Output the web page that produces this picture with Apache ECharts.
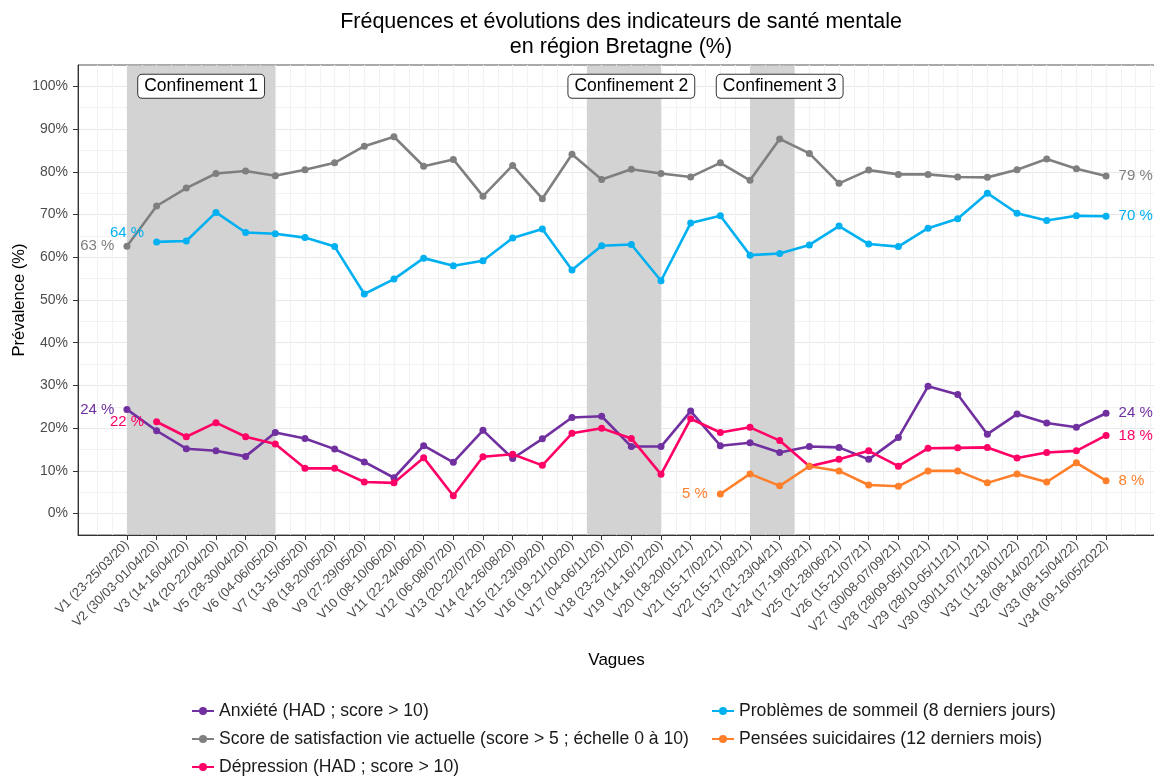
<!DOCTYPE html>
<html>
<head>
<meta charset="utf-8">
<script src="https://cdn.jsdelivr.net/npm/echarts@6/dist/echarts.min.js"></script>
<style>
  html, body { margin: 0; padding: 0; background: #fff; }
  #chart { width: 1154px; height: 777px; }
</style>
</head>
<body>
<div id="chart"></div>
<script>
const vagues = [
  'V1 (23-25/03/20)', 'V2 (30/03-01/04/20)', 'V3 (14-16/04/20)', 'V4 (20-22/04/20)',
  'V5 (28-30/04/20)', 'V6 (04-06/05/20)', 'V7 (13-15/05/20)', 'V8 (18-20/05/20)',
  'V9 (27-29/05/20)', 'V10 (08-10/06/20)', 'V11 (22-24/06/20)', 'V12 (06-08/07/20)',
  'V13 (20-22/07/20)', 'V14 (24-26/08/20)', 'V15 (21-23/09/20)', 'V16 (19-21/10/20)',
  'V17 (04-06/11/20)', 'V18 (23-25/11/20)', 'V19 (14-16/12/20)', 'V20 (18-20/01/21)',
  'V21 (15-17/02/21)', 'V22 (15-17/03/21)', 'V23 (21-23/04/21)', 'V24 (17-19/05/21)',
  'V25 (21-28/06/21)', 'V26 (15-21/07/21)', 'V27 (30/08-07/09/21)', 'V28 (28/09-05/10/21)',
  'V29 (28/10-05/11/21)', 'V30 (30/11-07/12/21)', 'V31 (11-18/01/22)', 'V32 (08-14/02/22)',
  'V33 (08-15/04/22)', 'V34 (09-16/05/2022)'
]

const anxiete = [24.4, 19.4, 15.2, 14.7, 13.4, 19.0, 17.6, 15.1, 12.1, 8.4, 15.9, 12.0, 19.5, 12.9, 17.5, 22.5, 22.8,
  15.7, 15.7, 24.0, 15.9, 16.6, 14.3, 15.7, 15.5, 12.7, 17.8, 29.8, 27.9, 18.6, 23.3, 21.2, 20.2, 23.5]
const satisfaction = [62.6, 72.0, 76.2, 79.6, 80.2, 79.1, 80.5, 82.1, 86.0, 88.2, 81.3, 82.9, 74.3, 81.5, 73.7, 84.1, 78.2,
  80.6, 79.6, 78.8, 82.1, 78.0, 87.7, 84.3, 77.3, 80.4, 79.4, 79.4, 78.8, 78.7, 80.5, 83.0, 80.7, 79.0]
const depression = [null, 21.5, 18.0, 21.3, 18.0, 16.3, 10.6, 10.6, 7.4, 7.2, 13.1, 4.2, 13.3, 13.9, 11.3, 18.8, 20.0,
  17.6, 9.2, 22.2, 19.0, 20.2, 17.1, 11.1, 12.7, 14.7, 11.1, 15.3, 15.4, 15.5, 13.0, 14.3, 14.7, 18.3]
const sommeil = [null, 63.6, 63.8, 70.5, 65.8, 65.5, 64.6, 62.5, 51.4, 54.9, 59.8, 58.0, 59.2, 64.5, 66.6, 57.0, 62.7,
  63.0, 54.5, 68.0, 69.7, 60.5, 60.9, 62.9, 67.3, 63.1, 62.5, 66.8, 69.0, 75.0, 70.3, 68.6, 69.7, 69.6]
const suicidaires = [null, null, null, null, null, null, null, null, null, null, null, null, null, null, null, null, null,
  null, null, null, 4.6, 9.3, 6.5, 11.1, 10.0, 6.7, 6.4, 10.0, 10.0, 7.2, 9.3, 7.4, 11.9, 7.7]

const confNames = ['Confinement 1', 'Confinement 2', 'Confinement 3']
const confStart = [0, 15.5, 21]
const confEnd = [5, 18, 22.5]
const confLabelX = [2.5, 17, 22]

const yTicks = [0, 10, 20, 30, 40, 50, 60, 70, 80, 90, 100]
const yMinor = [5, 15, 25, 35, 45, 55, 65, 75, 85, 95]

const FONT = '"Liberation Sans", Arial, sans-serif'
const xTicks = vagues.map((_, i) => i)
const xMinor = []
for (let i = -1; i <= 34.5; i += 0.5) xMinor.push(i)

function makeSeries(name, values, color, startOffset) {
  const pts = []
  values.forEach((v, i) => { if (v != null) pts.push([i, v]) })
  const data = pts.map((p, k) => {
    const item = { value: p }
    if (k === 0) {
      item.label = {
        show: true, position: 'left', distance: 9,
        offset: startOffset || [0, 0],
        formatter: (d) => Math.round(d.value[1]) + ' %'
      }
    } else if (k === pts.length - 1) {
      item.label = {
        show: true, position: 'right', distance: 9,
        formatter: (d) => Math.round(d.value[1]) + ' %'
      }
    }
    return item
  })
  return {
    name, type: 'line', data, z: 3,
    symbol: 'circle', symbolSize: 7,
    lineStyle: { width: 2.6, color },
    itemStyle: { color },
    label: { color, fontSize: 15, fontFamily: FONT },
    emphasis: { disabled: true }
  }
}

const legendBase = {
  orient: 'vertical', top: 697, height: 80, itemGap: 10, itemWidth: 22, itemHeight: 10,
  textStyle: { fontSize: 17.6, color: '#1a1a1a', fontFamily: FONT, lineHeight: 18 }
}

const chart = echarts.init(document.getElementById('chart'))

chart.setOption({
  animation: false,
  backgroundColor: '#fff',
  textStyle: { fontFamily: FONT },
  title: {
    text: 'Fréquences et évolutions des indicateurs de santé mentale\nen région Bretagne (%)',
    left: 616, top: 5, textAlign: 'center',
    textStyle: { fontSize: 21.5, fontWeight: 'normal', color: '#000', lineHeight: 25, fontFamily: FONT }
  },
  legend: [
    Object.assign({}, legendBase, {
      left: 186,
      data: ['Anxiété (HAD ; score > 10)', 'Score de satisfaction vie actuelle (score > 5 ; échelle 0 à 10)', 'Dépression (HAD ; score > 10)']
    }),
    Object.assign({}, legendBase, {
      left: 706,
      data: ['Problèmes de sommeil (8 derniers jours)', 'Pensées suicidaires (12 derniers mois)']
    })
  ],
  grid: {
    left: 78, top: 65, width: 1077, height: 470, outerBoundsMode: 'none',
    show: true, borderColor: '#555', borderWidth: 1
  },
  xAxis: [
    {
      type: 'value', min: -1.65, max: 34.65,
      name: 'Vagues', nameLocation: 'middle', nameGap: 117,
      nameTextStyle: { fontSize: 17, color: '#000', fontFamily: FONT },
      axisLine: { show: true, onZero: false, lineStyle: { color: '#333', width: 1 } },
      axisTick: { show: true, customValues: xTicks, length: 5, lineStyle: { color: '#333' } },
      axisLabel: {
        customValues: xTicks, rotate: 45, margin: 8, fontSize: 13, color: '#4d4d4d', fontFamily: FONT,
        formatter: (v) => vagues[Math.round(v)]
      },
      splitLine: { show: true, lineStyle: { color: '#e8e8e8', width: 1.2 } }
    },
    {
      type: 'value', min: -1.65, max: 34.65, position: 'bottom',
      axisLine: { show: false, onZero: false }, axisLabel: { show: false },
      axisTick: { show: false, customValues: xMinor },
      splitLine: { show: true, lineStyle: { color: '#f2f2f2', width: 1 } }
    }
  ],
  yAxis: [
    {
      type: 'value', min: -5, max: 105,
      name: 'Prévalence (%)', nameLocation: 'middle', nameGap: 50, nameMoveOverlap: false,
      nameTextStyle: { fontSize: 16.5, color: '#000', fontFamily: FONT },
      axisLine: { show: true, onZero: false, lineStyle: { color: '#333', width: 1 } },
      axisTick: { show: true, customValues: yTicks, length: 5, lineStyle: { color: '#333' } },
      axisLabel: { customValues: yTicks, margin: 10, fontSize: 14, color: '#4d4d4d', fontFamily: FONT, formatter: (v) => v + '%' },
      splitLine: { show: true, lineStyle: { color: '#e8e8e8', width: 1.2 } }
    },
    {
      type: 'value', min: -5, max: 105, position: 'left',
      axisLine: { show: false, onZero: false }, axisLabel: { show: false },
      axisTick: { show: false, customValues: yMinor },
      splitLine: { show: true, lineStyle: { color: '#f2f2f2', width: 1 } }
    }
  ],
  series: [
    {
      name: 'confinements', type: 'line', data: [], z: 1, silent: true,
      markArea: {
        silent: true,
        itemStyle: { color: '#d3d3d3', opacity: 1 },
        data: confStart.map((s, i) => [{ xAxis: s, yAxis: -4.85 }, { xAxis: confEnd[i], yAxis: 104.85 }])
      },
      markPoint: {
        silent: true, symbol: 'rect', symbolSize: 0,
        label: {
          show: true, position: 'inside', fontSize: 17.5, color: '#000', fontFamily: FONT,
          backgroundColor: '#fff', borderColor: '#333', borderWidth: 1, borderRadius: 4, padding: [3, 6, 2, 6],
          formatter: (d) => d.name
        },
        data: confNames.map((n, i) => ({ name: n, coord: [confLabelX[i], 100] }))
      }
    },
    makeSeries('Anxiété (HAD ; score > 10)', anxiete, '#7030A0'),
    makeSeries('Score de satisfaction vie actuelle (score > 5 ; échelle 0 à 10)', satisfaction, '#7f7f7f'),
    makeSeries('Dépression (HAD ; score > 10)', depression, '#FF0066'),
    makeSeries('Problèmes de sommeil (8 derniers jours)', sommeil, '#00B0F0', [0, -9]),
    makeSeries('Pensées suicidaires (12 derniers mois)', suicidaires, '#FF7F2A')
  ]
})
</script>
</body>
</html>
